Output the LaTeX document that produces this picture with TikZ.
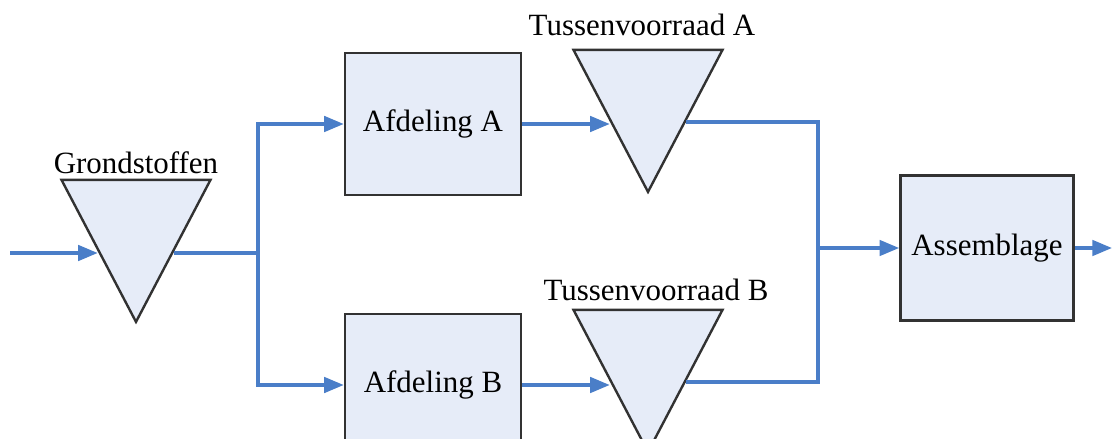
\documentclass[tikz,border=0pt]{standalone}
\usepackage{fontspec}
\setmainfont{Liberation Serif}
\usetikzlibrary{arrows.meta,shapes.geometric}

\definecolor{flowblue}{RGB}{74,126,200}
\definecolor{boxfill}{RGB}{230,236,248}
\definecolor{boxline}{RGB}{50,50,50}

\begin{document}
\begin{tikzpicture}[x=0.025cm,y=-0.025cm]
        \tikzset{dept/.style = {rectangle,draw=boxline,fill=boxfill,line width=1.7pt,
                minimum width=4.4cm,minimum height=3.55cm,font=\fontsize{22}{26}\selectfont}};
        \tikzset{buffer/.style = {isosceles triangle,isosceles triangle stretches,
                shape border rotate=270,minimum width=3.725cm,minimum height=3.55cm,
                inner sep=0pt,draw=boxline,fill=boxfill,line width=1.7pt}};
        \tikzset{lbl/.style = {font=\fontsize{22}{26}\selectfont}};
        \tikzset{line/.style = {flowblue,line width=2.4pt}};
        \tikzset{flow/.style = {line,-{Triangle[length=14pt,width=11pt]}}};
        \useasboundingbox (0,0) rectangle (1112,439);
        \node[buffer,anchor=apex] (gs) at (136,325) {};
        \node[lbl] (gslbl) at (136,163) {Grondstoffen};
        \node[dept] (afdA) at (433,124) {Afdeling A};
        \node[dept] (afdB) at (433,385) {Afdeling B};
        \node[buffer,anchor=apex] (tvA) at (648,195) {};
        \node[lbl] (tvAlbl) at (642,25) {Tussenvoorraad A};
        \node[buffer,anchor=apex] (tvB) at (648,455) {};
        \node[lbl] (tvBlbl) at (656,290) {Tussenvoorraad B};
        \node[dept,minimum width=4.33cm,minimum height=3.625cm] (asm) at (987,248) {Assemblage};
        \coordinate (in) at (10,253);
        \coordinate (split) at (258,253);
        \coordinate (merge) at (818,248);
        \coordinate (out) at (1112,248);
        \draw[flow] (in) -- (in -| gs.right side);
        \draw[line] (split -| gs.left side) -- (split);
        \draw[flow] (split) |- (afdA);
        \draw[flow] (split) |- (afdB);
        \draw[flow] (afdA.east) -- (afdA.east -| tvA.right side);
        \draw[flow] (afdB.east) -- (afdB.east -| tvB.right side);
        \draw[line] (tvA.left side) -| (merge);
        \draw[line] (tvB.left side) -| (merge);
        \draw[flow] (merge) -- (asm);
        \draw[flow] (asm) -- (out);
    \end{tikzpicture}
\end{document}
